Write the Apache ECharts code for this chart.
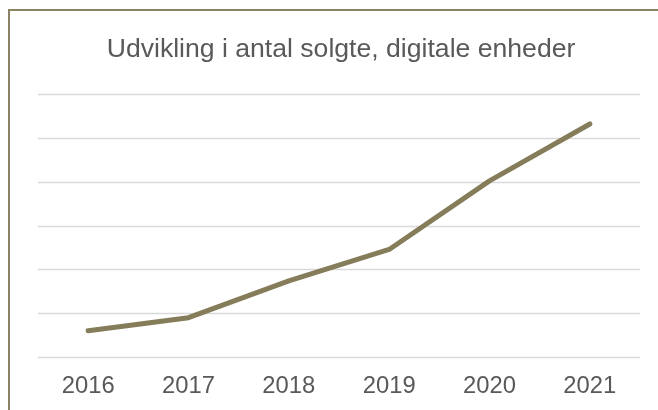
<!DOCTYPE html>
<html>
<head>
<meta charset="utf-8">
<script src="https://cdn.jsdelivr.net/npm/echarts@6/dist/echarts.min.js"></script>
<style>
  html, body { margin: 0; padding: 0; background: #fff; }
  #wrap { position: relative; width: 658px; height: 410px; overflow: hidden; }
  #frame { position: absolute; left: 7.5px; top: 9px; width: 720px; height: 460px; border: 2px solid #8a8262; box-sizing: border-box; }
  #chart { position: absolute; left: 0; top: 0; width: 658px; height: 410px; }
</style>
</head>
<body>
<div id="wrap">
  <div id="frame"></div>
  <div id="chart"></div>
</div>
<script>
const titleText = 'Udvikling i antal solgte, digitale enheder';
const years = ['2016', '2017', '2018', '2019', '2020', '2021'];
const soldUnits = [0.6, 0.9, 1.74, 2.46, 4.03, 5.33];

const chart = echarts.init(document.getElementById('chart'), null, { renderer: 'canvas' });
chart.setOption({
  animation: false,
  backgroundColor: 'transparent',
  title: {
    text: titleText,
    left: 336,
    textAlign: 'center',
    top: 31,
    textStyle: { fontFamily: 'Liberation Sans, Arial, sans-serif', fontSize: 26.6, fontWeight: 'normal', color: '#595959' }
  },
  grid: { left: 38, right: 18, top: 94.7, bottom: 53, containLabel: false },
  xAxis: {
    type: 'category',
    data: years,
    boundaryGap: true,
    axisLine: { show: false },
    axisTick: { show: false },
    axisLabel: { margin: 17, fontFamily: 'Liberation Sans, Arial, sans-serif', fontSize: 23.8, color: '#595959' }
  },
  yAxis: {
    type: 'value',
    min: 0, max: 6, interval: 1,
    axisLabel: { show: false },
    axisLine: { show: false },
    axisTick: { show: false },
    splitLine: { lineStyle: { color: '#d9d9d9', width: 1.3 } }
  },
  series: [{
    type: 'line',
    data: soldUnits,
    symbol: 'none',
    lineStyle: { color: '#857c5a', width: 5, cap: 'round', join: 'round' }
  }]
});
</script>
</body>
</html>
